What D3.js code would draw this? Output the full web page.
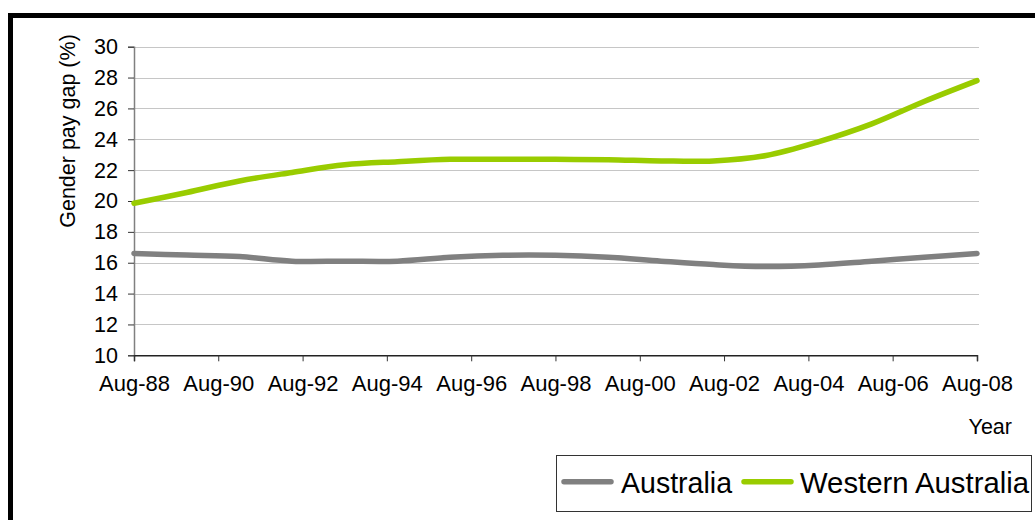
<!DOCTYPE html>
<html>
<head>
<meta charset="utf-8">
<script src="https://cdn.jsdelivr.net/npm/d3@7"></script>
<style>
  html, body { margin: 0; padding: 0; background: #fff; }
  svg { display: block; font-family: "Liberation Sans", Arial, sans-serif; }
</style>
</head>
<body>
<svg id="chart" width="1035" height="520"></svg>
<script>
// Survey dates (series sampled every 15 months)
const periods = ["1988-08", "1989-11", "1991-02", "1992-05", "1993-08", "1994-11",
                 "1996-02", "1997-05", "1998-08", "1999-11", "2001-02", "2002-05",
                 "2003-08", "2004-11", "2006-02", "2007-05", "2008-08"];

// Gender pay gap (%)
const australia = [16.6, 16.5, 16.4, 16.1, 16.1, 16.1, 16.35, 16.48, 16.48, 16.35,
                   16.1, 15.88, 15.75, 15.85, 16.1, 16.35, 16.6];
const westernAustralia = [19.85, 20.55, 21.3, 21.85, 22.35, 22.55, 22.7, 22.7, 22.7,
                          22.68, 22.6, 22.6, 22.95, 23.85, 25.0, 26.45, 27.8];

const xTickDates = ["1988-08", "1990-08", "1992-08", "1994-08", "1996-08", "1998-08",
                    "2000-08", "2002-08", "2004-08", "2006-08", "2008-08"];
const yTicks = [10, 12, 14, 16, 18, 20, 22, 24, 26, 28, 30];

const seriesNames = ["Australia", "Western Australia"];
const seriesColors = ["#808080", "#99cc00"];

const parse = d3.timeParse("%Y-%m");
const dates = periods.map(parse);

const svg = d3.select("#chart");

// Outer frame
svg.append("rect")
  .attr("x", 10.5).attr("y", 15.5)
  .attr("width", 1100).attr("height", 600)
  .attr("fill", "none").attr("stroke", "#000").attr("stroke-width", 5);

const plot = { left: 134, right: 977, top: 46.7, bottom: 355.3 };

const x = d3.scaleTime()
  .domain([parse("1988-08"), parse("2008-08")])
  .range([plot.left, plot.right]);
const y = d3.scaleLinear()
  .domain([10, 30])
  .range([plot.bottom, plot.top]);

// Horizontal gridlines
svg.append("g")
  .selectAll("line")
  .data(yTicks.filter(t => t > 10))
  .join("line")
  .attr("x1", plot.left).attr("x2", plot.right + 2)
  .attr("y1", d => Math.round(y(d)) + 0.5).attr("y2", d => Math.round(y(d)) + 0.5)
  .attr("stroke", "#c6c6c6").attr("stroke-width", 1);

// Y axis
const yAxis = svg.append("g")
  .attr("transform", `translate(${plot.left},0)`)
  .call(d3.axisLeft(y).tickValues(yTicks).tickSize(6).tickPadding(10).tickFormat(d3.format("d")));
yAxis.select(".domain").attr("stroke", "#808080").attr("stroke-width", 1.5);
yAxis.selectAll(".tick line").attr("stroke", "#333");
yAxis.selectAll(".tick text")
  .attr("font-size", "21.5px").attr("fill", "#000")
  .attr("font-family", "'Liberation Sans', Arial, sans-serif");

// X axis
const xAxis = svg.append("g")
  .attr("transform", `translate(0,${plot.bottom})`)
  .call(d3.axisBottom(x).tickValues(xTickDates.map(parse)).tickSize(6).tickPadding(14)
    .tickFormat(d3.timeFormat("%b-%y")));
xAxis.select(".domain").attr("stroke", "#222").attr("stroke-width", 1.5);
xAxis.selectAll(".tick line").attr("stroke", "#333");
xAxis.selectAll(".tick text")
  .attr("font-size", "22px").attr("fill", "#000")
  .attr("font-family", "'Liberation Sans', Arial, sans-serif");

// Axis titles
svg.append("text")
  .attr("transform", "translate(75,131) rotate(-90)")
  .attr("text-anchor", "middle")
  .attr("font-size", "21.5px")
  .text("Gender pay gap (%)");

svg.append("text")
  .attr("x", 1012).attr("y", 434)
  .attr("text-anchor", "end")
  .attr("font-size", "21.5px")
  .text("Year");

// Series lines (smoothed)
const line = d3.line()
  .x((d, i) => x(dates[i]))
  .y(d => y(d))
  .curve(d3.curveCatmullRom.alpha(0.5));

[australia, westernAustralia].forEach((vals, k) => {
  svg.append("path")
    .datum(vals)
    .attr("d", line)
    .attr("fill", "none")
    .attr("stroke", seriesColors[k])
    .attr("stroke-width", 5.5)
    .attr("stroke-linecap", "round")
    .attr("stroke-linejoin", "round");
});

// Legend
const legend = svg.append("g");
legend.append("rect")
  .attr("x", 556.5).attr("y", 455.5)
  .attr("width", 475).attr("height", 56)
  .attr("fill", "#fff").attr("stroke", "#333").attr("stroke-width", 1);

const legendItems = [
  { name: seriesNames[0], color: seriesColors[0], x0: 564, x1: 611, tx: 621, w: 111 },
  { name: seriesNames[1], color: seriesColors[1], x0: 744, x1: 791, tx: 800, w: 229 }
];
legendItems.forEach(it => {
  legend.append("line")
    .attr("x1", it.x0).attr("x2", it.x1)
    .attr("y1", 481.7).attr("y2", 481.7)
    .attr("stroke", it.color).attr("stroke-width", 5.5)
    .attr("stroke-linecap", "round");
  legend.append("text")
    .attr("x", it.tx).attr("y", 492.5)
    .attr("font-size", "29px")
    .attr("textLength", it.w)
    .attr("lengthAdjust", "spacingAndGlyphs")
    .text(it.name);
});
</script>
</body>
</html>
